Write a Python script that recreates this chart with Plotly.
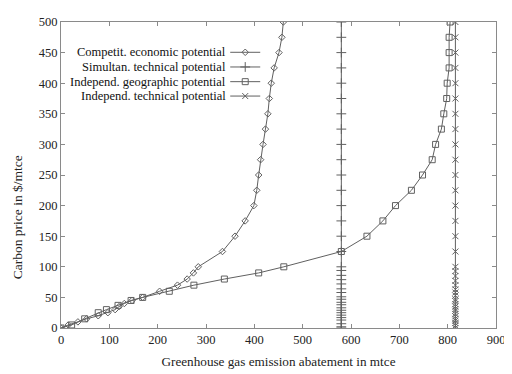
import plotly.graph_objects as go

# ---------------- data ----------------
econ_price = [0, 5, 10, 15, 20, 25, 30, 35, 40, 45, 50, 60, 70, 80, 90, 100,
              125, 150, 175, 200, 225, 250, 275, 300, 325, 350, 375, 400, 425, 450, 475, 500]
econ_abate = [0, 15, 35, 53, 77, 97, 112, 120, 131, 147, 169, 204, 241, 261, 274, 284,
              334, 360, 381, 399, 405, 409, 413, 418, 423, 428, 431, 435, 441, 451, 457, 460]

simul_price = [0, 2, 7, 13, 17, 21, 25, 29, 33, 38, 42, 47, 51, 58, 64, 72, 79, 86, 94, 100,
               125, 150, 175, 200, 225, 250, 275, 300, 325, 350, 375, 400, 425, 450, 475, 500]
simul_abate = [580] * len(simul_price)

geo_price = [0, 5, 15, 25, 30, 37, 45, 50, 60, 70, 80, 90, 100,
             125, 150, 175, 200, 225, 250, 275, 300, 325, 350, 375, 400, 425, 450, 475, 500]
geo_abate = [0, 22, 49, 77, 94, 118, 145, 169, 224, 275, 338, 409, 461,
             580, 633, 666, 692, 725, 748, 768, 775, 787, 792, 798, 799, 803, 803, 803, 805]

tech_price = [0, 4, 8, 12, 15, 19, 23, 28, 31, 35, 39, 44, 47, 53, 58, 63, 70, 77, 85, 93, 100,
              125, 150, 175, 200, 225, 250, 275, 300, 325, 350, 375, 400, 425, 450, 475, 500]
tech_abate = [816] * len(tech_price)

series_names = ["Competit. economic potential", "Simultan. technical potential",
                "Independ. geographic potential", "Independ. technical potential"]

x_ticks = [0, 100, 200, 300, 400, 500, 600, 700, 800, 900]
y_ticks = [0, 50, 100, 150, 200, 250, 300, 350, 400, 450, 500]
X_MAX, Y_MAX = 900, 500

# ---------------- styling ----------------
LINE = "#606060"
FRAME = "#8a8a8a"
FONT = "Liberation Serif, Times New Roman, serif"
symbols = ["diamond-open", "cross-thin-open", "square-open", "x-thin-open"]
msizes = [5, 7, 6, 6]

series = [(econ_abate, econ_price), (simul_abate, simul_price),
          (geo_abate, geo_price), (tech_abate, tech_price)]


def marker(sym, ms):
    return dict(symbol=sym, size=ms, color=LINE, line=dict(color=LINE, width=1))


fig = go.Figure()
for (xs, ys), name, sym, ms in zip(series, series_names, symbols, msizes):
    fig.add_trace(go.Scatter(
        x=xs, y=ys, mode="lines+markers", name=name, showlegend=False,
        line=dict(color=LINE, width=1), marker=marker(sym, ms),
    ))

# gnuplot-style key: text right-aligned, sample to the right (positions as plot fractions)
key_rows = [0.901, 0.853, 0.805, 0.758]
key_text_x = 0.383
key_line = [0.389, 0.458]
for name, sym, ms, ky in zip(series_names, symbols, msizes, key_rows):
    fig.add_trace(go.Scatter(
        x=[f * X_MAX for f in key_line], y=[ky * Y_MAX] * 2, mode="lines",
        line=dict(color=LINE, width=1), showlegend=False, hoverinfo="skip"))
    fig.add_trace(go.Scatter(
        x=[sum(key_line) / 2 * X_MAX], y=[ky * Y_MAX], mode="markers",
        marker=marker(sym, ms), showlegend=False, hoverinfo="skip"))
    fig.add_annotation(x=key_text_x, y=ky, xref="paper", yref="paper", text=name,
                       showarrow=False, xanchor="right", yanchor="middle",
                       font=dict(family=FONT, size=12.5, color="#111111"))

# y-axis title (placed like the reference, a bit below the plot centre)
fig.add_annotation(x=-0.1, y=0.36, xref="paper", yref="paper",
                   text="Carbon price in $/mtce", textangle=-90, showarrow=False,
                   xanchor="center", yanchor="middle",
                   font=dict(family=FONT, size=13.5, color="#222222"))

# page body has an 8px margin -> shrink the figure so the plot lands where the reference has it
fig.update_layout(
    width=504, height=366,
    margin=dict(l=53, r=12, t=7, b=46),
    paper_bgcolor="white", plot_bgcolor="white",
    font=dict(family=FONT, size=12, color="#111111"),
    xaxis=dict(range=[0, X_MAX], tickvals=x_ticks, ticks="inside", ticklen=4,
               tickcolor=FRAME, showline=True, linecolor=FRAME, linewidth=1,
               mirror="ticks", showgrid=False, zeroline=False,
               tickfont=dict(family=FONT, size=12.5, color="#222222"),
               title=dict(text="Greenhouse gas emission abatement in mtce",
                          font=dict(family=FONT, size=13.2, color="#222222"), standoff=10)),
    yaxis=dict(range=[0, Y_MAX], tickvals=y_ticks, ticks="inside", ticklen=4,
               tickcolor=FRAME, showline=True, linecolor=FRAME, linewidth=1,
               mirror="ticks", showgrid=False, zeroline=False,
               tickfont=dict(family=FONT, size=12.5, color="#222222")),
)

fig.write_html("out.html")
